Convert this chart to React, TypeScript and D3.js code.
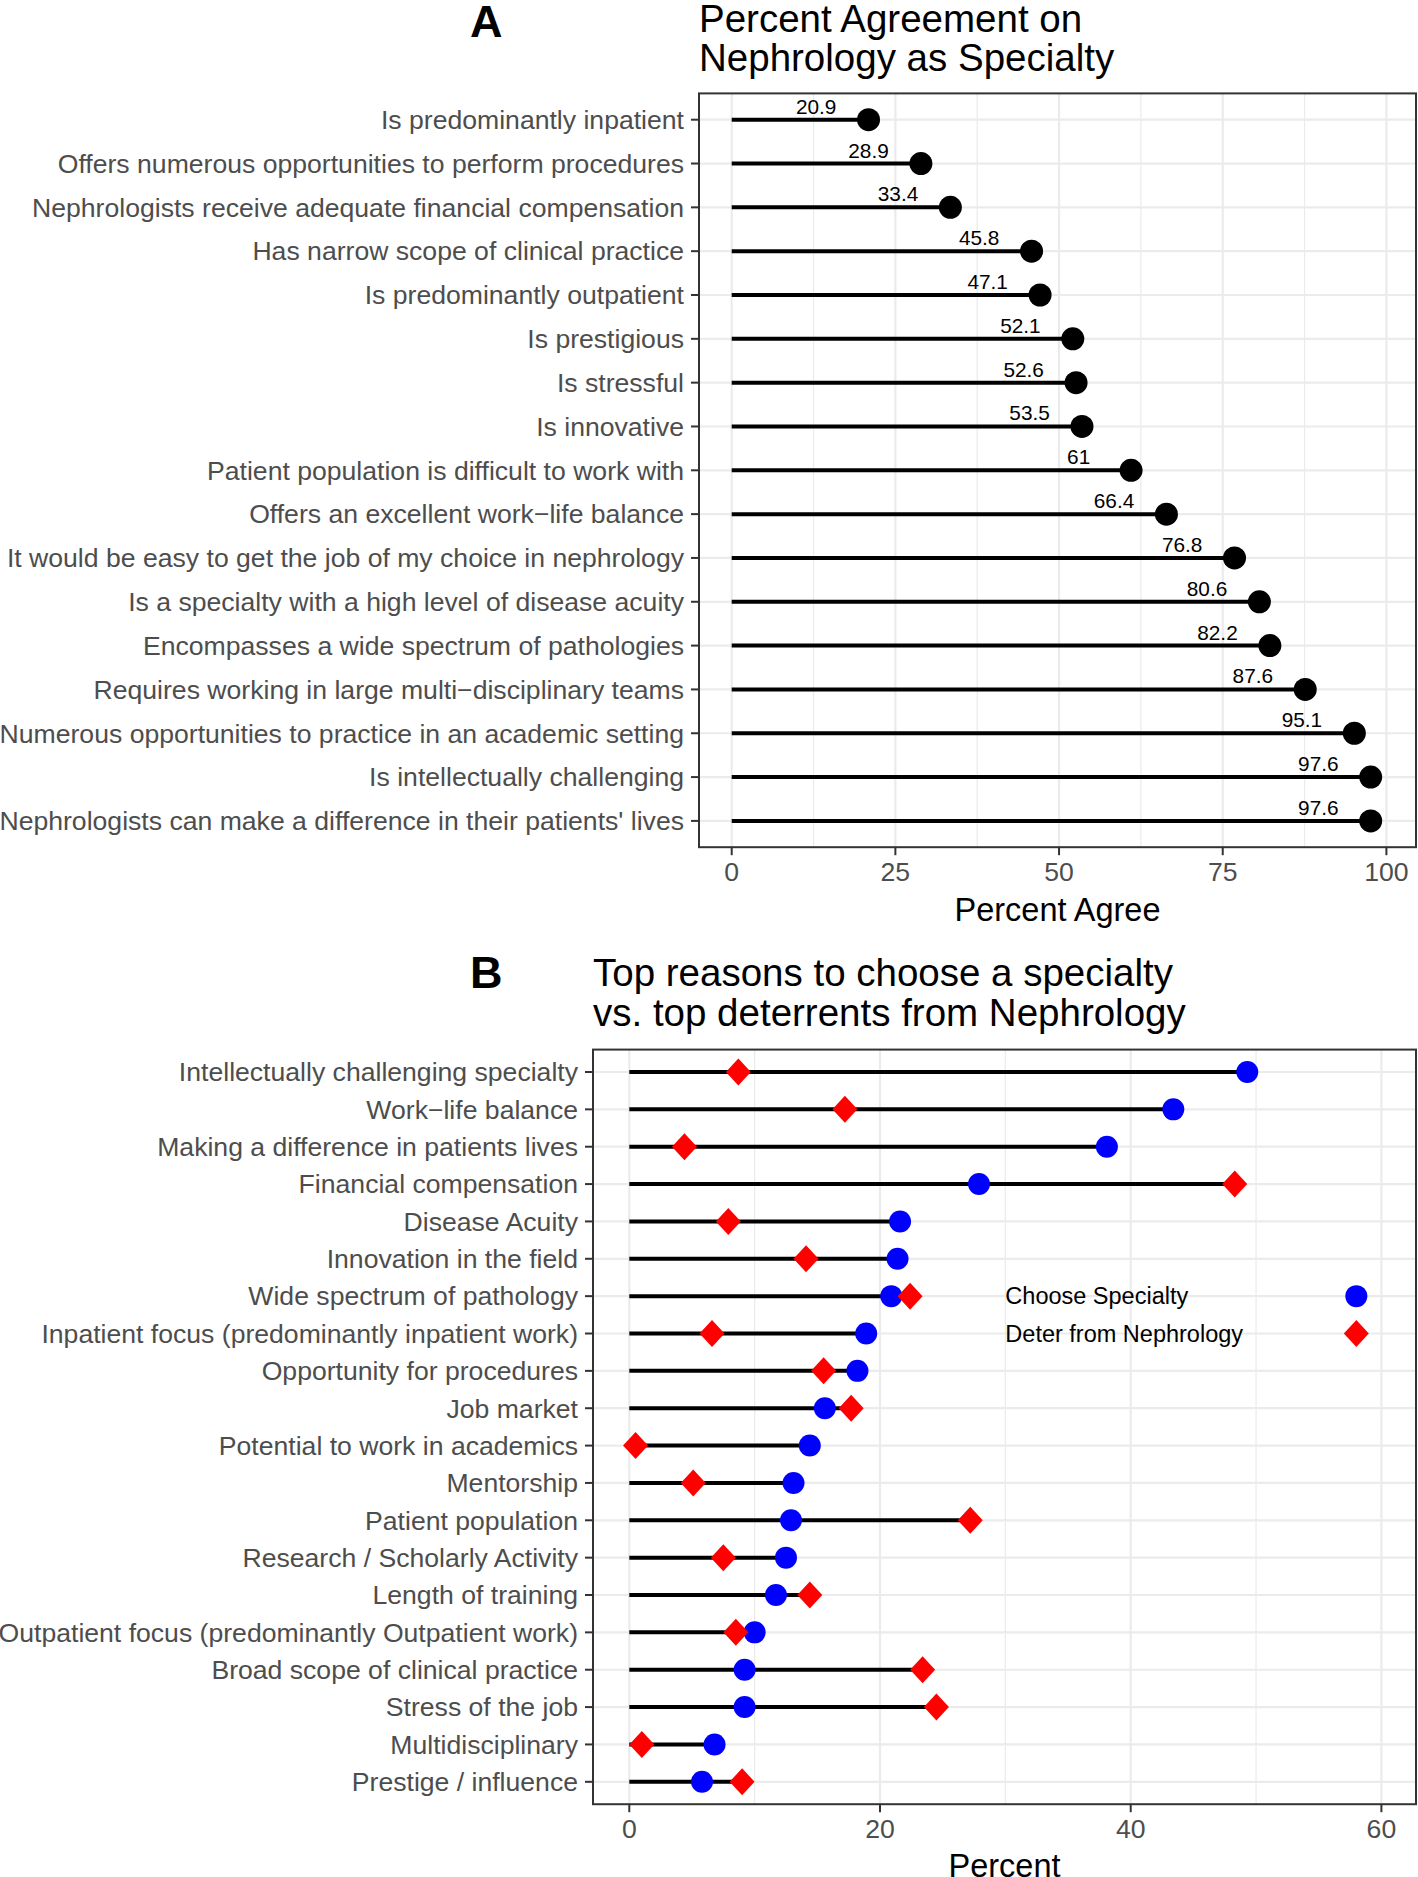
import React from 'react';
import * as d3 from 'd3';

const itemsA = [
  'Is predominantly inpatient',
  'Offers numerous opportunities to perform procedures',
  'Nephrologists receive adequate financial compensation',
  'Has narrow scope of clinical practice',
  'Is predominantly outpatient',
  'Is prestigious',
  'Is stressful',
  'Is innovative',
  'Patient population is difficult to work with',
  'Offers an excellent work\u2212life balance',
  'It would be easy to get the job of my choice in nephrology',
  'Is a specialty with a high level of disease acuity',
  'Encompasses a wide spectrum of pathologies',
  'Requires working in large multi\u2212disciplinary teams',
  'Numerous opportunities to practice in an academic setting',
  'Is intellectually challenging',
  "Nephrologists can make a difference in their patients' lives",
];
const agreeA = [20.9, 28.9, 33.4, 45.8, 47.1, 52.1, 52.6, 53.5, 61, 66.4, 76.8, 80.6, 82.2, 87.6, 95.1, 97.6, 97.6];
const agreeLabelsA = ['20.9', '28.9', '33.4', '45.8', '47.1', '52.1', '52.6', '53.5', '61', '66.4', '76.8', '80.6', '82.2', '87.6', '95.1', '97.6', '97.6'];
const ticksA = [0, 25, 50, 75, 100];
const minorA = [12.5, 37.5, 62.5, 87.5];

const reasonsB = [
  'Intellectually challenging specialty',
  'Work\u2212life balance',
  'Making a difference in patients lives',
  'Financial compensation',
  'Disease Acuity',
  'Innovation in the field',
  'Wide spectrum of pathology',
  'Inpatient focus (predominantly inpatient work)',
  'Opportunity for procedures',
  'Job market',
  'Potential to work in academics',
  'Mentorship',
  'Patient population',
  'Research / Scholarly Activity',
  'Length of training',
  'Outpatient focus (predominantly Outpatient work)',
  'Broad scope of clinical practice',
  'Stress of the job',
  'Multidisciplinary',
  'Prestige / influence',
];
const chooseB = [49.3, 43.4, 38.1, 27.9, 21.6, 21.4, 20.9, 18.9, 18.2, 15.6, 14.4, 13.1, 12.9, 12.5, 11.7, 10.0, 9.2, 9.2, 6.8, 5.8];
const deterB = [8.7, 17.2, 4.4, 48.3, 7.9, 14.1, 22.4, 6.6, 15.5, 17.7, 0.5, 5.1, 27.2, 7.5, 14.4, 8.5, 23.4, 24.5, 1.0, 9.0];
const ticksB = [0, 20, 40, 60];
const minorB = [10, 30, 50];

const legendLabels = ['Choose Specialty', 'Deter from Nephrology'];
const legendRows = ['Wide spectrum of pathology', 'Inpatient focus (predominantly inpatient work)'];
const legendTextX = 30;
const legendPointX = 58;

const FONT = '"Liberation Sans", Arial, Helvetica, sans-serif';
const GRID = '#EBEBEB';
const AXIS_TEXT = '#4D4D4D';
const BORDER = '#333333';
const BLUE = '#0000FF';
const RED = '#FF0000';

function diamond(cx: number, cy: number, w: number, h: number) {
  return `M${cx},${cy - h}L${cx + w},${cy}L${cx},${cy + h}L${cx - w},${cy}Z`;
}

export default function App() {
  const W = 1418;
  const H = 1877;

  // Panel A
  const ax0 = 699;
  const ax1 = 1416;
  const xA = d3.scaleLinear().domain([0, 100]).range([731.7, 1386.4]);
  const yA = d3.scalePoint<string>().domain(itemsA).range([119.7, 820.9]);
  const stepA = yA.step();
  const aTop = (yA(itemsA[0]) as number) - 0.6 * stepA;
  const aBot = (yA(itemsA[itemsA.length - 1]) as number) + 0.6 * stepA;

  // Panel B
  const bx0 = 593;
  const bx1 = 1416;
  const xB = d3.scaleLinear().domain([0, 20]).range([629.3, 880]);
  const yB = d3.scalePoint<string>().domain(reasonsB).range([1072, 1781.8]);
  const stepB = yB.step();
  const bTop = (yB(reasonsB[0]) as number) - 0.6 * stepB;
  const bBot = (yB(reasonsB[reasonsB.length - 1]) as number) + 0.6 * stepB;

  const tickLen = 8;
  const labGap = 15;
  const axisFs = 26.6;
  const titleFs = 38.5;

  return (
    <svg
      width={W}
      height={H}
      viewBox={`0 0 ${W} ${H}`}
      style={{ position: 'absolute', left: 0, top: 0, background: '#fff' }}
      fontFamily={FONT}
    >
      <rect x={0} y={0} width={W} height={H} fill="#fff" />

      {/* ---------- Panel A ---------- */}
      <text x={470} y={37} fontSize={45} fontWeight="bold" fill="#000">A</text>
      <text x={ax0} y={32} fontSize={titleFs} fill="#000">Percent Agreement on</text>
      <text x={ax0} y={71} fontSize={titleFs} fill="#000">Nephrology as Specialty</text>

      <g>
        {minorA.map((t) => (
          <line key={'amn' + t} x1={xA(t)} x2={xA(t)} y1={aTop} y2={aBot} stroke={GRID} strokeWidth={1.2} />
        ))}
        {ticksA.map((t) => (
          <line key={'amj' + t} x1={xA(t)} x2={xA(t)} y1={aTop} y2={aBot} stroke={GRID} strokeWidth={2.2} />
        ))}
        {itemsA.map((c) => (
          <line key={'ah' + c} x1={ax0} x2={ax1} y1={yA(c)} y2={yA(c)} stroke={GRID} strokeWidth={2.2} />
        ))}
      </g>
      <g>
        {itemsA.map((c, i) => (
          <line key={'aseg' + c} x1={xA(0)} x2={xA(agreeA[i])} y1={yA(c)} y2={yA(c)} stroke="#000" strokeWidth={4} />
        ))}
        {itemsA.map((c, i) => (
          <circle key={'apt' + c} cx={xA(agreeA[i])} cy={yA(c)} r={11.5} fill="#000" />
        ))}
        {itemsA.map((c, i) => (
          <text key={'alab' + c} x={xA(agreeA[i] - 8)} y={(yA(c) as number) - 6} fontSize={20.8} textAnchor="middle" fill="#000">
            {agreeLabelsA[i]}
          </text>
        ))}
      </g>
      <rect x={ax0} y={aTop} width={ax1 - ax0} height={aBot - aTop} fill="none" stroke={BORDER} strokeWidth={2} />
      {itemsA.map((c) => (
        <g key={'ayt' + c}>
          <line x1={ax0 - tickLen} x2={ax0} y1={yA(c)} y2={yA(c)} stroke={BORDER} strokeWidth={2} />
          <text x={ax0 - labGap} y={yA(c)} dy="0.35em" fontSize={axisFs} textAnchor="end" fill={AXIS_TEXT}>{c}</text>
        </g>
      ))}
      {ticksA.map((t) => (
        <g key={'axt' + t}>
          <line x1={xA(t)} x2={xA(t)} y1={aBot} y2={aBot + tickLen} stroke={BORDER} strokeWidth={2} />
          <text x={xA(t)} y={aBot + 24} dy="0.35em" fontSize={axisFs} textAnchor="middle" fill={AXIS_TEXT}>{t}</text>
        </g>
      ))}
      <text x={(ax0 + ax1) / 2} y={aBot + 62} dy="0.35em" fontSize={32.5} textAnchor="middle" fill="#000">Percent Agree</text>

      {/* ---------- Panel B ---------- */}
      <text x={470} y={988} fontSize={45} fontWeight="bold" fill="#000">B</text>
      <text x={bx0} y={986} fontSize={titleFs} fill="#000">Top reasons to choose a specialty</text>
      <text x={bx0} y={1026} fontSize={titleFs} fill="#000">vs. top deterrents from Nephrology</text>

      <g>
        {minorB.map((t) => (
          <line key={'bmn' + t} x1={xB(t)} x2={xB(t)} y1={bTop} y2={bBot} stroke={GRID} strokeWidth={1.2} />
        ))}
        {ticksB.map((t) => (
          <line key={'bmj' + t} x1={xB(t)} x2={xB(t)} y1={bTop} y2={bBot} stroke={GRID} strokeWidth={2.2} />
        ))}
        {reasonsB.map((c) => (
          <line key={'bh' + c} x1={bx0} x2={bx1} y1={yB(c)} y2={yB(c)} stroke={GRID} strokeWidth={2.2} />
        ))}
      </g>
      <g>
        {reasonsB.map((c, i) => (
          <line key={'bseg' + c} x1={xB(0)} x2={xB(Math.max(chooseB[i], deterB[i]))} y1={yB(c)} y2={yB(c)} stroke="#000" strokeWidth={4} />
        ))}
        {reasonsB.map((c, i) => (
          <circle key={'bc' + c} cx={xB(chooseB[i])} cy={yB(c)} r={11} fill={BLUE} />
        ))}
        {reasonsB.map((c, i) => (
          <path key={'bd' + c} d={diamond(xB(deterB[i]), yB(c) as number, 12.5, 13.5)} fill={RED} />
        ))}
      </g>
      {/* in-panel legend */}
      <text x={xB(legendTextX)} y={yB(legendRows[0])} dy="0.35em" fontSize={23.5} fill="#000">{legendLabels[0]}</text>
      <text x={xB(legendTextX)} y={yB(legendRows[1])} dy="0.35em" fontSize={23.5} fill="#000">{legendLabels[1]}</text>
      <circle cx={xB(legendPointX)} cy={yB(legendRows[0])} r={11} fill={BLUE} />
      <path d={diamond(xB(legendPointX), yB(legendRows[1]) as number, 12.5, 13.5)} fill={RED} />

      <rect x={bx0} y={bTop} width={bx1 - bx0} height={bBot - bTop} fill="none" stroke={BORDER} strokeWidth={2} />
      {reasonsB.map((c) => (
        <g key={'byt' + c}>
          <line x1={bx0 - tickLen} x2={bx0} y1={yB(c)} y2={yB(c)} stroke={BORDER} strokeWidth={2} />
          <text x={bx0 - labGap} y={yB(c)} dy="0.35em" fontSize={axisFs} textAnchor="end" fill={AXIS_TEXT}>{c}</text>
        </g>
      ))}
      {ticksB.map((t) => (
        <g key={'bxt' + t}>
          <line x1={xB(t)} x2={xB(t)} y1={bBot} y2={bBot + tickLen} stroke={BORDER} strokeWidth={2} />
          <text x={xB(t)} y={bBot + 24} dy="0.35em" fontSize={axisFs} textAnchor="middle" fill={AXIS_TEXT}>{t}</text>
        </g>
      ))}
      <text x={(bx0 + bx1) / 2} y={bBot + 61} dy="0.35em" fontSize={32.5} textAnchor="middle" fill="#000">Percent</text>
    </svg>
  );
}
